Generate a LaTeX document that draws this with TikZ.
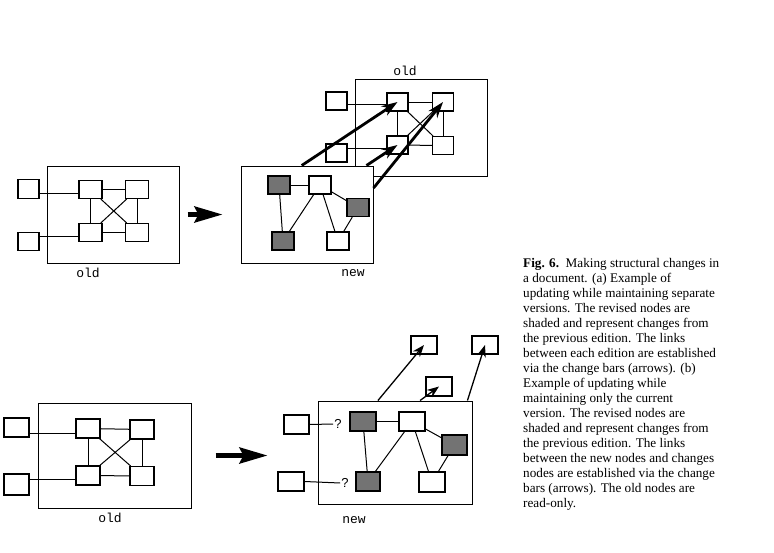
\documentclass[tikz,border=0pt]{standalone}
\usepackage{fontspec}
\setmainfont{Liberation Serif}
\newfontfamily\codefont{Liberation Mono}
\newfontfamily\markfont{Liberation Sans}
\usepackage{tikz}
\usetikzlibrary{
  arrows.meta,
  calc
}
\definecolor{shade}{RGB}{115,115,115}
\tikzset{
  frame/.style={
    draw,
    line width=1pt,
    inner sep=0pt
  },
  sq/.style={
    draw,
    fill=white,
    line width=1.1pt,
    inner sep=0pt,
    minimum width=22pt,
    minimum height=18pt
  },
  bsq/.style={
    sq,
    minimum width=25pt,
    minimum height=19pt
  },
  shsq/.style={ sq, fill=shade },
  bshsq/.style={ bsq, fill=shade },
  lnk/.style={ line width=1pt },
  bigarrow/.style={
    -{Stealth[length=28pt,width=16pt,inset=4pt]},
    line width=4.5pt
  },
  chbar/.style={
    -{Stealth[length=16pt,width=11pt]},
    line width=2.8pt
  },
  chbarthin/.style={
    -{Stealth[length=12pt,width=9pt]},
    line width=1.3pt
  },
  lbl/.style={ font=\codefont\fontsize{13}{14}\selectfont },
  qmark/.style={ font=\markfont\fontsize{13}{14}\selectfont, inner sep=1pt },
  caption/.style={
    align=left,
    inner sep=0pt,
    font=\fontsize{13.2}{15}\selectfont
  }
}

\begin{document}
\begin{tikzpicture}[x=1pt,y=-1pt]
  \useasboundingbox (0,0) rectangle (774,552);

  % (a) old edition
  \node[frame, minimum width=132pt, minimum height=97pt] (oldA) at (113,214.5) {};
  \node[lbl] (oldAlbl) at (88,273) {old};
  \node[sq, minimum width=21pt, minimum height=19pt] (oa1) at (28.5,189) {};
  \node[sq, minimum width=21pt, minimum height=18pt] (oa2) at (28.5,241.5) {};
  \node[sq, minimum width=23pt] (a1) at (90.5,189.5) {};
  \node[sq, minimum width=23pt] (a2) at (137,189.5) {};
  \node[sq, minimum width=23pt] (a3) at (90.5,232.5) {};
  \node[sq, minimum width=23pt] (a4) at (137,232.5) {};
  \coordinate (pa1) at ($(oa1.north east)!0.7!(oa1.south east)$);
  \coordinate (pa2) at ($(oa2.north east)!0.25!(oa2.south east)$);
  \draw[lnk] (pa1) -- (pa1 -| a1.west);
  \draw[lnk] (pa2) -- (pa2 -| a3.west);
  \foreach \p/\q in {a1/a2, a3/a4, a1/a3, a2/a4, a1/a4, a2/a3}
    \draw[lnk] (\p) -- (\q);

  % (a) old edition kept beside the new one
  \node[frame, minimum width=132pt, minimum height=97pt] (oldT) at (421,127.5) {};
  \node[lbl] (oldTlbl) at (405,71) {old};
  \node[sq, minimum width=21pt] (ot1) at (336.5,101) {};
  \node[sq, minimum width=21pt] (ot2) at (336.5,153) {};
  \node[sq, minimum width=21pt] (t1) at (397.5,102) {};
  \node[sq, minimum width=21pt] (t2) at (443,102) {};
  \node[sq, minimum width=21pt] (t3) at (397.5,145) {};
  \node[sq, minimum width=21pt] (t4) at (443,145.5) {};
  \coordinate (pt1) at ($(ot1.north east)!0.67!(ot1.south east)$);
  \coordinate (pt2) at ($(ot2.north east)!0.28!(ot2.south east)$);
  \draw[lnk] (pt1) -- (pt1 -| t1.west);
  \draw[lnk] (pt2) -- (pt2 -| t3.west);
  \foreach \p/\q in {t1/t2, t3/t4, t1/t3, t2/t4, t1/t4, t2/t3}
    \draw[lnk] (\p) -- (\q);

  % (a) new edition
  \node[frame, fill=white, minimum width=132pt, minimum height=97pt] (newT) at (307,214.5) {};
  \node[lbl] (newTlbl) at (353,273) {new};
  \node[shsq] (n1) at (279,185) {};
  \node[sq] (n2) at (320,185) {};
  \node[shsq] (n3) at (358,207.5) {};
  \node[shsq] (n4) at (283,241) {};
  \node[sq] (n5) at (338,241) {};
  \foreach \p/\q in {n1/n2, n1/n4, n2/n4, n2/n5, n2/n3, n3/n5}
    \draw[lnk] (\p) -- (\q);

  % change bars
  \coordinate (s1) at ($(newT.north west)!0.46!(newT.north east)$);
  \coordinate (s2) at ($(newT.north west)!0.947!(newT.north east)$);
  \coordinate (s3) at ($(newT.north east)!0.23!(newT.south east)$);
  \draw[chbar] (s1) -- (t1.center);
  \draw[chbar] (s2) -- (t3.center);
  \draw[chbar] (s3) -- (t2.center);

  \draw[bigarrow, shorten <=8pt, shorten >=18pt] (oldA.east) -- (newT.west);

  % (b) old edition
  \node[frame, minimum width=153pt, minimum height=105pt] (oldB) at (114.5,455.5) {};
  \node[lbl] (oldBlbl) at (110,518) {old};
  \node[bsq] (ob1) at (16.5,427.5) {};
  \node[bsq, minimum height=21pt] (ob2) at (16.5,484.5) {};
  \node[bsq, minimum width=24pt] (b1) at (88,428.5) {};
  \node[bsq, minimum width=24pt] (b2) at (142,429.5) {};
  \node[bsq, minimum width=24pt] (b3) at (88,475.5) {};
  \node[bsq, minimum width=24pt] (b4) at (142,476) {};
  \coordinate (pb1) at ($(ob1.north east)!0.78!(ob1.south east)$);
  \coordinate (pb2) at ($(ob2.north east)!0.29!(ob2.south east)$);
  \draw[lnk] (pb1) -- (pb1 -| b1.west);
  \draw[lnk] (pb2) -- (pb2 -| b3.west);
  \foreach \p/\q in {b1/b2, b3/b4, b1/b3, b2/b4, b1/b4, b2/b3}
    \draw[lnk] (\p) -- (\q);

  % (b) new edition
  \node[frame, minimum width=154pt, minimum height=103pt] (newB) at (395,452.5) {};
  \node[lbl] (newBlbl) at (354,520) {new};
  \node[bsq] (ox1) at (296.5,424.5) {};
  \node[bsq, minimum width=26pt] (ox2) at (291,481.5) {};
  \node[qmark] (q1) at (338,424) {?};
  \node[qmark] (q2) at (345,483) {?};
  \node[bshsq, minimum width=26pt] (m1) at (363,421.5) {};
  \node[bsq, minimum width=26pt] (m2) at (412,421.5) {};
  \node[bshsq, minimum height=20pt] (m3) at (454.5,445) {};
  \node[bshsq, minimum width=24pt] (m4) at (368,481.5) {};
  \node[bsq, minimum width=26pt, minimum height=20pt] (m5) at (432,482) {};
  \foreach \p/\q in {m1/m2, m1/m4, m2/m4, m2/m5, m2/m3, m3/m5}
    \draw[lnk] (\p) -- (\q);
  \draw[lnk] (ox1.east) -- (q1.west);
  \draw[lnk] (ox2.east) -- (q2.west);

  % (b) changes nodes
  \node[bsq, minimum width=26pt, minimum height=18pt] (c1) at (424,345) {};
  \node[bsq, minimum width=26pt, minimum height=18pt] (c2) at (485,345) {};
  \node[bsq, minimum width=26pt] (c3) at (439,386.5) {};
  \coordinate (u1) at ($(newB.north west)!0.39!(newB.north east)$);
  \coordinate (u2) at ($(newB.north west)!0.9675!(newB.north east)$);
  \coordinate (u3) at ($(newB.north west)!0.662!(newB.north east)$);
  \draw[chbarthin] (u1) -- (c1.center);
  \draw[chbarthin] (u2) -- (c2.center);
  \draw[chbarthin] (u3) -- (c3.center);

  \draw[bigarrow, shorten <=24pt, shorten >=50pt] (oldB.east) -- (oldB.east -| newB.west);

  % caption
  \node[caption, anchor=north west] (cap) at (523,258) {%
    \textbf{Fig. 6.}\ \ Making structural changes in\\
    a document. (a) Example of\\
    updating while maintaining separate\\
    versions. The revised nodes are\\
    shaded and represent changes from\\
    the previous edition. The links\\
    between each edition are established\\
    via the change bars (arrows). (b)\\
    Example of updating while\\
    maintaining only the current\\
    version. The revised nodes are\\
    shaded and represent changes from\\
    the previous edition. The links\\
    between the new nodes and changes\\
    nodes are established via the change\\
    bars (arrows). The old nodes are\\
    read-only.};
\end{tikzpicture}
\end{document}
